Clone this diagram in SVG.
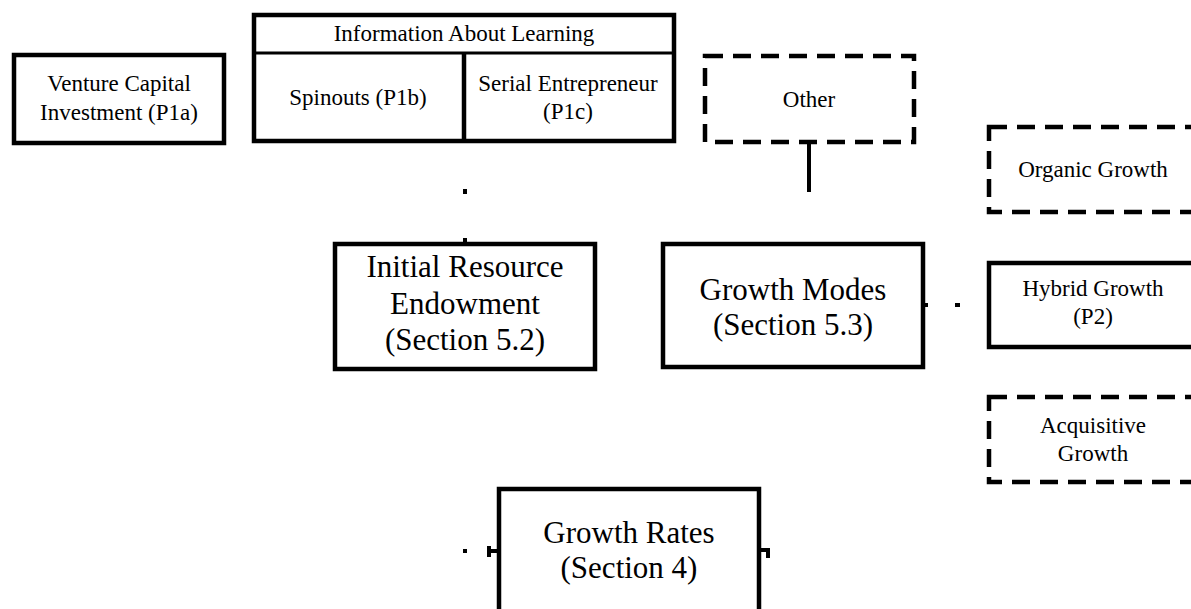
<svg xmlns="http://www.w3.org/2000/svg" width="1191" height="609" viewBox="0 0 1191 609">
<style>
.box{fill:#fff;stroke:#000;stroke-width:4.5}
.dash{fill:#fff;stroke:#000;stroke-width:4.5;stroke-dasharray:18 10}
.t{font-family:"Liberation Serif","Times New Roman",serif;fill:#000;text-anchor:middle}
.s{font-size:23px}
.l{font-size:31px}
.c{fill:#000;stroke:none}
</style>
<rect width="1191" height="609" fill="#fff"/>
<g id="venture-capital">
<rect class="box" x="14" y="55" width="210" height="88"/>
<text class="t s" x="119" y="91">Venture Capital</text>
<text class="t s" x="119" y="120">Investment (P1a)</text>
</g>
<g id="information-about-learning">
<rect class="box" x="254" y="15" width="420" height="126"/>
<line x1="254" y1="53" x2="674" y2="53" stroke="#000" stroke-width="3"/>
<line x1="464" y1="53" x2="464" y2="141" stroke="#000" stroke-width="4.5"/>
<text class="t s" x="464" y="41">Information About Learning</text>
</g>
<g id="spinouts">
<text class="t s" x="358" y="105">Spinouts (P1b)</text>
</g>
<g id="serial-entrepreneur">
<text class="t s" x="568" y="91">Serial Entrepreneur</text>
<text class="t s" x="568" y="119">(P1c)</text>
</g>
<g id="other">
<rect class="dash" x="705" y="56" width="209" height="86"/>
<text class="t s" x="809" y="107">Other</text>
</g>
<g id="organic-growth">
<rect class="dash" x="989" y="127" width="230" height="85"/>
<text class="t s" x="1093" y="177">Organic Growth</text>
</g>
<g id="hybrid-growth">
<rect class="box" x="989" y="263" width="230" height="84"/>
<text class="t s" x="1093" y="296">Hybrid Growth</text>
<text class="t s" x="1093" y="324">(P2)</text>
</g>
<g id="acquisitive-growth">
<rect class="dash" x="989" y="397" width="230" height="85"/>
<text class="t s" x="1093" y="433">Acquisitive</text>
<text class="t s" x="1093" y="461">Growth</text>
</g>
<g id="initial-resource-endowment">
<rect class="box" x="335" y="244" width="260" height="125"/>
<text class="t l" x="465" y="277">Initial Resource</text>
<text class="t l" x="465" y="314">Endowment</text>
<text class="t l" x="465" y="350">(Section 5.2)</text>
</g>
<g id="growth-modes">
<rect class="box" x="663" y="244" width="260" height="123"/>
<text class="t l" x="793" y="300">Growth Modes</text>
<text class="t l" x="793" y="335">(Section 5.3)</text>
</g>
<g id="growth-rates">
<rect class="box" x="499" y="489" width="260" height="140"/>
<text class="t l" x="629" y="543">Growth Rates</text>
<text class="t l" x="629" y="578">(Section 4)</text>
</g>
<g id="connectors">
<line x1="809" y1="143" x2="809" y2="192" stroke="#000" stroke-width="4"/>
<rect class="c" x="463" y="189" width="4" height="5"/>
<rect class="c" x="463" y="238" width="4" height="4"/>
<rect class="c" x="924" y="303" width="4" height="4"/>
<rect class="c" x="955" y="303" width="5" height="4"/>
<rect class="c" x="463" y="549" width="4" height="4"/>
<rect class="c" x="487" y="546" width="4" height="11"/>
<rect class="c" x="491" y="549" width="7" height="4"/>
<rect class="c" x="759" y="548" width="11" height="4"/>
<rect class="c" x="766" y="548" width="4" height="10"/>
</g>
</svg>
